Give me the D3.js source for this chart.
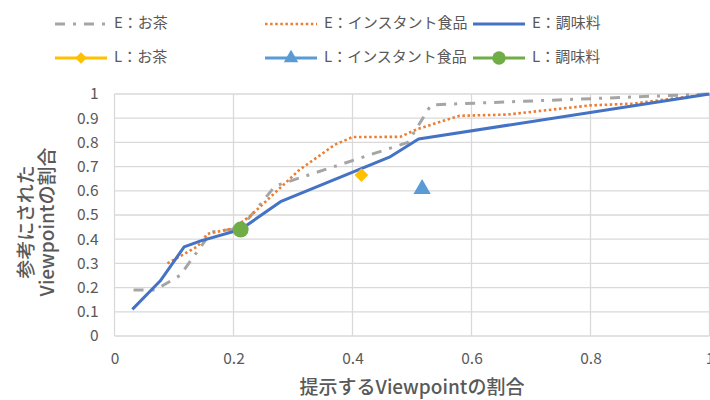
<!DOCTYPE html>
<html>
<head>
<meta charset="utf-8">
<script src="https://cdn.jsdelivr.net/npm/d3@7"></script>
<style>
  html, body { margin: 0; padding: 0; background: #fff; }
  svg { display: block; font-family: "Noto Sans CJK JP", "Noto Sans", sans-serif; }
</style>
</head>
<body>
<svg id="chart" width="710" height="400"></svg>
<script>
// E series: ratio of presented viewpoints (x) vs ratio referenced (y)
const eTeaX = [0.032, 0.068, 0.11, 0.163, 0.212, 0.27, 0.493, 0.532, 1];
const eTeaY = [0.19, 0.19, 0.25, 0.43, 0.445, 0.62, 0.80, 0.955, 1];

const eInstantX = [0.089, 0.14, 0.156, 0.2, 0.23, 0.31, 0.37, 0.40, 0.48, 0.51, 0.58, 0.66, 0.80, 0.87, 1];
const eInstantY = [0.30, 0.371, 0.422, 0.445, 0.50, 0.685, 0.79, 0.822, 0.823, 0.856, 0.91, 0.915, 0.953, 0.96, 1];

const eSeasonX = [0.03, 0.077, 0.117, 0.145, 0.212, 0.279, 0.462, 0.511, 1];
const eSeasonY = [0.11, 0.228, 0.368, 0.393, 0.44, 0.555, 0.739, 0.814, 1];

// L series: single points
const lTea = [0.415, 0.665];
const lInstant = [0.517, 0.607];
const lSeason = [0.212, 0.44];

const xTicks = [0, 0.2, 0.4, 0.6, 0.8, 1];
const yTicks = [0, 0.1, 0.2, 0.3, 0.4, 0.5, 0.6, 0.7, 0.8, 0.9, 1];

const xTitle = "提示するViewpointの割合";
const yTitleLines = ["参考にされた", "Viewpointの割合"];

const legendNames = ["E：お茶", "E：インスタント食品", "E：調味料", "L：お茶", "L：インスタント食品", "L：調味料"];

const svg = d3.select("#chart");
const textColor = "#595959";
const gridColor = "#d9d9d9";

const x = d3.scaleLinear().domain([0, 1]).range([114.5, 709.5]);
const y = d3.scaleLinear().domain([0, 1]).range([336, 94]);

// gridlines
const g = svg.append("g");
g.selectAll("line.v").data(xTicks).join("line")
  .attr("x1", d => x(d)).attr("x2", d => x(d))
  .attr("y1", y(0)).attr("y2", y(1))
  .attr("stroke", gridColor).attr("stroke-width", 1.3);
g.selectAll("line.h").data(yTicks).join("line")
  .attr("x1", x(0)).attr("x2", x(1))
  .attr("y1", d => y(d)).attr("y2", d => y(d))
  .attr("stroke", gridColor).attr("stroke-width", 1.3);

// axes (labels only)
const xAxis = d3.axisBottom(x).tickValues(xTicks).tickSize(0).tickPadding(0)
  .tickFormat(d => d3.format("~g")(d));
const xa = svg.append("g").attr("transform", `translate(0,${y(0) + 17})`).call(xAxis);
xa.select(".domain").remove();
xa.selectAll("text").attr("fill", textColor).attr("font-size", 15.5)
  .attr("font-family", "'Noto Sans CJK JP', 'Noto Sans', sans-serif");

const yAxis = d3.axisLeft(y).tickValues(yTicks).tickSize(0).tickPadding(0)
  .tickFormat(d => d3.format("~g")(d));
const ya = svg.append("g").attr("transform", `translate(${x(0) - 16},0)`).call(yAxis);
ya.select(".domain").remove();
ya.selectAll("text").attr("fill", textColor).attr("font-size", 15.5)
  .attr("font-family", "'Noto Sans CJK JP', 'Noto Sans', sans-serif");

// axis titles
svg.append("text").attr("x", 412).attr("y", 389).attr("text-anchor", "middle")
  .attr("dominant-baseline", "middle").attr("font-weight", 500)
  .attr("fill", textColor).attr("font-size", 19).text(xTitle);

const yt = svg.append("text").attr("transform", "translate(0,222) rotate(-90)")
  .attr("text-anchor", "middle").attr("fill", textColor).attr("font-size", 19)
  .attr("font-weight", 500);
yt.selectAll("tspan").data(yTitleLines).join("tspan")
  .attr("x", 0).attr("y", (d, i) => i === 0 ? 28 : 49)
  .attr("dominant-baseline", "middle").text(d => d);

// series styles
const styles = {
  eTea: { color: "#a5a5a5", width: 3, dash: "10,8,3,8" },
  eInstant: { color: "#ed7d31", width: 2.6, dash: "2.5,2.6" },
  eSeason: { color: "#4472c4", width: 3, dash: null },
  lTea: { color: "#ffc000", symbol: d3.symbolDiamond2, size: 120 },
  lInstant: { color: "#5b9bd5", symbol: d3.symbolTriangle, size: 130 },
  lSeason: { color: "#70ad47", symbol: d3.symbolCircle, size: 200 }
};

const line = d3.line().x(d => x(d[0])).y(d => y(d[1]));
const plot = svg.append("g");
[[eTeaX, eTeaY, styles.eTea], [eInstantX, eInstantY, styles.eInstant], [eSeasonX, eSeasonY, styles.eSeason]]
  .forEach(([xs, ys, s]) => {
    plot.append("path").datum(d3.zip(xs, ys))
      .attr("d", line).attr("fill", "none")
      .attr("stroke", s.color).attr("stroke-width", s.width)
      .attr("stroke-linejoin", "round")
      .attr("stroke-dasharray", s.dash);
  });

[[lTea, styles.lTea], [lInstant, styles.lInstant], [lSeason, styles.lSeason]].forEach(([p, s]) => {
  plot.append("path")
    .attr("d", d3.symbol().type(s.symbol).size(s.size)())
    .attr("transform", `translate(${x(p[0])},${y(p[1])})`)
    .attr("fill", s.color);
});

// legend
const legendCols = [55, 265, 473];
const legendRows = [24, 58];
const legendStyles = [styles.eTea, styles.eInstant, styles.eSeason, styles.lTea, styles.lInstant, styles.lSeason];
const leg = svg.append("g");
legendNames.forEach((name, i) => {
  const cx = legendCols[i % 3];
  const cy = legendRows[Math.floor(i / 3)];
  const s = legendStyles[i];
  const item = leg.append("g").attr("transform", `translate(${cx},${cy})`);
  item.append("line").attr("x1", 0).attr("x2", 52).attr("y1", 0).attr("y2", 0)
    .attr("stroke", s.color).attr("stroke-width", s.width || 3)
    .attr("stroke-dasharray", s.dash || null);
  if (s.symbol) {
    item.append("path").attr("d", d3.symbol().type(s.symbol).size(s.size * 0.7)())
      .attr("transform", "translate(26,0)").attr("fill", s.color);
  }
  item.append("text").attr("x", 59).attr("y", 0).attr("dominant-baseline", "middle")
    .attr("fill", textColor).attr("font-size", 15).text(name);
});
</script>
</body>
</html>
